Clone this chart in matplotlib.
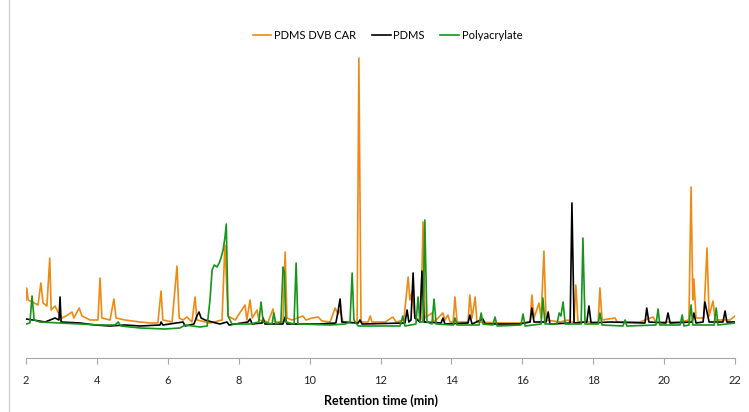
import matplotlib
matplotlib.use("Agg")
import matplotlib.pyplot as plt
from matplotlib.lines import Line2D

plt.rcParams['font.family'] = ['Lato', 'DejaVu Sans']

# retention time (min) / detector response (arbitrary units)
t_car = [2.00, 2.02, 2.06, 2.17, 2.34, 2.42, 2.48, 2.59, 2.67, 2.71, 2.82, 2.90, 3.02, 3.13,
         3.30, 3.35, 3.50, 3.58, 3.81, 4.03, 4.09, 4.14, 4.37, 4.48, 4.54, 4.79, 5.22, 5.50,
         5.72, 5.81, 5.86, 6.12, 6.26, 6.32, 6.43, 6.54, 6.68, 6.77, 6.82, 7.19, 7.53, 7.61,
         7.70, 7.90, 8.18, 8.23, 8.32, 8.38, 8.52, 8.57, 8.83, 8.97, 9.02, 9.25, 9.31, 9.36,
         9.50, 9.81, 9.90, 10.07, 10.24, 10.35, 10.58, 10.72, 10.80, 10.86, 10.94, 11.34,
         11.39, 11.45, 11.65, 11.71, 11.76, 12.13, 12.35, 12.44, 12.66, 12.78, 12.83, 12.89,
         12.97, 13.14, 13.20, 13.25, 13.45, 13.51, 13.76, 13.82, 13.90, 13.96, 14.05, 14.10,
         14.16, 14.47, 14.52, 14.58, 14.67, 14.72, 15.37, 15.93, 16.22, 16.27, 16.33, 16.47,
         16.53, 16.61, 16.67, 17.06, 17.29, 17.35, 17.46, 17.51, 17.57, 18.14, 18.19, 18.25,
         18.62, 18.67, 19.32, 19.69, 19.77, 20.45, 20.70, 20.76, 20.81, 20.84, 20.90, 21.12,
         21.21, 21.27, 21.38, 21.44, 21.86, 22.00]
y_car = [58, 70, 58, 56, 53, 75, 55, 52, 100, 48, 52, 46, 40, 42,
         46, 40, 50, 42, 38, 38, 80, 40, 38, 59, 40, 38, 36, 35,
         35, 67, 38, 36, 92, 40, 38, 41, 36, 61, 38, 35, 38, 113,
         42, 38, 53, 38, 58, 40, 48, 38, 36, 49, 36, 36, 106, 40,
         38, 42, 38, 40, 41, 37, 36, 50, 44, 48, 36, 35,
         300, 36, 36, 42, 36, 36, 41, 36, 38, 81, 58, 66,
         40, 38, 136, 40, 45, 36, 45, 38, 43, 36, 36, 61,
         36, 36, 63, 40, 61, 36, 35, 35, 36, 63, 40, 55,
         40, 107, 38, 36, 38, 36, 36, 73, 36, 36, 70, 38,
         40, 36, 36, 41, 36, 36, 38, 171, 58, 79, 40, 40,
         110, 42, 57, 38, 38, 42]

t_pdms = [2.00, 2.20, 2.54, 2.82, 2.93, 2.96, 2.99, 3.52, 3.95, 4.37, 4.79, 5.22, 5.78, 5.81,
          5.86, 6.43, 6.49, 6.74, 6.82, 6.88, 6.94, 7.05, 7.25, 7.47, 7.67, 7.73, 8.26, 8.32,
          8.38, 8.66, 8.69, 8.74, 9.25, 9.31, 9.36, 10.29, 10.74, 10.80, 10.86, 10.91, 11.37,
          11.42, 11.48, 12.69, 12.75, 12.80, 12.86, 12.92, 12.97, 13.11, 13.17, 13.23, 13.71,
          13.76, 13.82, 14.47, 14.52, 14.58, 14.89, 14.95, 15.93, 16.22, 16.27, 16.33, 16.67,
          16.73, 16.78, 17.35, 17.40, 17.46, 17.82, 17.88, 17.94, 18.47, 19.46, 19.51, 19.57,
          20.05, 20.11, 20.17, 20.79, 20.84, 20.90, 21.10, 21.15, 21.21, 21.27, 21.66, 21.72,
          21.77, 22.00]
y_pdms = [39, 38, 36, 40, 38, 61, 36, 35, 33, 32, 33, 32, 33, 36,
          33, 36, 32, 34, 42, 46, 40, 38, 36, 34, 36, 33, 36, 39,
          34, 35, 40, 34, 34, 41, 34, 34, 35, 46, 59, 36, 35,
          38, 34, 35, 48, 36, 38, 85, 40, 36, 87, 36, 35,
          40, 34, 35, 43, 34, 39, 34, 34, 36, 50, 36, 36,
          46, 34, 35, 155, 35, 36, 52, 35, 36, 35, 50, 36,
          35, 45, 35, 36, 45, 35, 36, 56, 46, 36, 36, 47,
          36, 36]

t_poly = [2.00, 2.11, 2.17, 2.23, 2.39, 2.96, 3.52, 4.09, 4.51, 4.60, 4.68, 5.22, 5.92, 6.34,
          6.49, 6.91, 7.11, 7.19, 7.25, 7.31, 7.39, 7.45, 7.50, 7.56, 7.61, 7.65, 7.70, 7.81,
          8.32, 8.57, 8.63, 8.69, 8.94, 8.99, 9.05, 9.19, 9.25, 9.29, 9.33, 9.56, 9.62, 9.67,
          10.58, 11.00, 11.14, 11.20, 11.25, 11.37, 12.55, 12.63, 12.69, 13.00, 13.06, 13.11,
          13.20, 13.25, 13.31, 13.45, 13.51, 13.57, 14.05, 14.10, 14.16, 14.78, 14.84, 14.89,
          15.17, 15.23, 15.29, 15.96, 16.02, 16.08, 16.53, 16.58, 16.64, 16.98, 17.04, 17.09,
          17.15, 17.21, 17.66, 17.71, 17.77, 18.14, 18.19, 18.25, 18.84, 18.90, 18.95, 19.77,
          19.83, 19.88, 20.45, 20.51, 20.56, 20.70, 20.76, 20.81, 21.41, 21.47, 21.52, 22.00]
y_poly = [34, 35, 62, 38, 36, 35, 34, 33, 33, 36, 32, 30, 29, 30,
          33, 31, 32, 58, 88, 93, 91, 95, 100, 108, 120, 134, 42, 34,
          34, 36, 56, 36, 34, 45, 34, 36, 91, 86, 36, 34, 95, 34,
          33, 34, 36, 85, 38, 32, 32, 42, 32, 34, 61, 36,
          36, 138, 36, 34, 59, 34, 33, 40, 33, 33, 45, 34,
          33, 41, 32, 33, 44, 32, 34, 60, 34, 34, 45, 42,
          56, 34, 34, 120, 34, 34, 45, 33, 32, 38, 32, 33,
          49, 33, 33, 43, 32, 33, 53, 33, 33, 50, 33, 35]

series = [("PDMS DVB CAR", t_car, y_car, "#EE8A14"),
          ("PDMS", t_pdms, y_pdms, "#000000"),
          ("Polyacrylate", t_poly, y_poly, "#16951A")]

x_ticks = [2, 4, 6, 8, 10, 12, 14, 16, 18, 20, 22]

fig = plt.figure(figsize=(7.49, 4.12), dpi=100)
ax = fig.add_axes([26 / 749, 54 / 412, 709 / 749, 338 / 412])

for name, t, y, c in series:
    ax.plot(t, y, color=c, lw=1.2, label=name)

ax.set_xlim(2, 22)
ax.set_ylim(0, 338)
ax.set_xticks(x_ticks)
ax.set_yticks([])
for s in ("top", "right", "left"):
    ax.spines[s].set_visible(False)
ax.spines["bottom"].set_color("#a6a6a6")
ax.tick_params(axis="x", direction="out", length=4, color="#a6a6a6",
               labelsize=8, labelcolor="#222222", pad=8)
ax.set_xlabel("Retention time (min)", fontsize=9, fontweight="bold", labelpad=6)

ax.legend(loc="upper center", bbox_to_anchor=(0.51, 1.0), ncol=3, frameon=False,
          fontsize=8, handlelength=1.7, handletextpad=0.25, columnspacing=1.4)

# thin chart border on the left edge
fig.add_artist(Line2D([8.5 / 749, 8.5 / 749], [0, 1], color="#d4d4d4", lw=1.0))

fig.savefig("out.png", dpi=100)
